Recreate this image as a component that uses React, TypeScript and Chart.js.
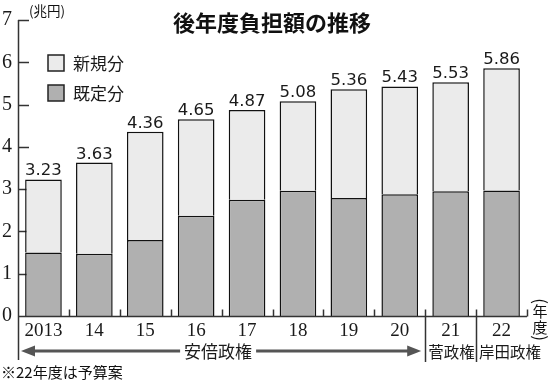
import React, { useEffect, useRef } from "react";
import { Chart, registerables } from "chart.js";

Chart.register(...registerables);

const categories = ["2013", "14", "15", "16", "17", "18", "19", "20", "21", "22"];
const totals = [3.23, 3.63, 4.36, 4.65, 4.87, 5.08, 5.36, 5.43, 5.53, 5.86];
const existingValues = [1.5, 1.47, 1.8, 2.37, 2.75, 2.96, 2.79, 2.88, 2.95, 2.97];
const newValues = [1.73, 2.16, 2.56, 2.28, 2.12, 2.12, 2.57, 2.55, 2.58, 2.89];
const seriesLabels = ["既定分", "新規分"];
const eras = [
  { label: "安倍政権", from: 0, to: 7 },
  { label: "菅政権", from: 8, to: 8 },
  { label: "岸田政権", from: 9, to: 9 },
];
const titleText = "後年度負担額の推移";
const unitText = "(兆円)";
const noteText = "※22年度は予算案";

const LIGHT = "#ebebeb";
const DARK = "#b0b0b0";
const INK = "#1a1a1a";
const SERIF = "'Liberation Serif', 'DejaVu Serif', serif";
const CJK = "'Noto Sans CJK JP', 'Noto Sans', sans-serif";

const decorPlugin = {
  id: "decor",
  beforeDatasetsDraw(chart: any) {
    const ctx = chart.ctx;
    const y = chart.scales.y;
    const area = chart.chartArea;
    ctx.save();
    ctx.strokeStyle = "#333";
    ctx.lineWidth = 1.5;
    for (let v = 1; v <= 7; v++) {
      const py = Math.round(y.getPixelForValue(v)) + 0.5;
      ctx.beginPath();
      ctx.moveTo(area.left, py);
      ctx.lineTo(area.left + 11, py);
      ctx.stroke();
    }
    ctx.restore();
  },
  afterDatasetsDraw(chart: any) {
    const ctx = chart.ctx;
    const x = chart.scales.x;
    const y = chart.scales.y;
    const area = chart.chartArea;
    const base = Math.round(y.getPixelForValue(0)) + 0.5;
    ctx.save();
    // axes
    ctx.strokeStyle = "#333";
    ctx.lineWidth = 1.5;
    ctx.beginPath();
    ctx.moveTo(area.left + 0.5, area.top);
    ctx.lineTo(area.left + 0.5, 360);
    ctx.moveTo(area.left, base);
    ctx.lineTo(area.right, base);
    ctx.stroke();

    const n = categories.length;
    const boundary = (i: number) => {
      if (i <= 0) return area.left;
      if (i >= n) return area.right;
      return (x.getPixelForValue(i - 1) + x.getPixelForValue(i)) / 2;
    };
    const eraBreaks = eras.slice(1).map((e) => e.from);
    for (let i = 1; i <= n; i++) {
      const bx = Math.round(boundary(i)) + 0.5;
      const isBreak = eraBreaks.includes(i);
      ctx.beginPath();
      ctx.moveTo(bx, base - 7);
      ctx.lineTo(bx, isBreak ? 362 : base);
      ctx.stroke();
    }

    // eras
    const ey = 351;
    eras.forEach((era, idx) => {
      if (idx === 0) {
        ctx.font = `17px ${CJK}`;
        const left = area.left + 3;
        const right = boundary(era.to + 1) - 4;
        const cx = (left + right) / 2 - 3;
        const tw = ctx.measureText(era.label).width;
        ctx.fillStyle = INK;
        ctx.textAlign = "center";
        ctx.textBaseline = "middle";
        ctx.fillText(era.label, cx, ey + 1);
        ctx.strokeStyle = "#555";
        ctx.fillStyle = "#555";
        ctx.lineWidth = 3;
        ctx.beginPath();
        ctx.moveTo(left + 10, ey);
        ctx.lineTo(cx - tw / 2 - 4, ey);
        ctx.moveTo(cx + tw / 2 + 4, ey);
        ctx.lineTo(right - 10, ey);
        ctx.stroke();
        ctx.beginPath();
        ctx.moveTo(left, ey);
        ctx.lineTo(left + 14, ey - 5.5);
        ctx.lineTo(left + 14, ey + 5.5);
        ctx.closePath();
        ctx.fill();
        ctx.beginPath();
        ctx.moveTo(right, ey);
        ctx.lineTo(right - 14, ey - 5.5);
        ctx.lineTo(right - 14, ey + 5.5);
        ctx.closePath();
        ctx.fill();
      } else {
        ctx.font = `15.5px ${CJK}`;
        ctx.fillStyle = INK;
        ctx.textAlign = "left";
        ctx.textBaseline = "middle";
        ctx.fillText(era.label, boundary(era.from) + 3, ey + 1);
      }
    });

    // value labels
    const meta = chart.getDatasetMeta(1);
    ctx.font = `16.5px 'DejaVu Sans', sans-serif`;
    ctx.fillStyle = INK;
    ctx.textAlign = "center";
    ctx.textBaseline = "alphabetic";
    totals.forEach((t, i) => {
      const el = meta.data[i];
      ctx.fillText(t.toFixed(2), el.x, y.getPixelForValue(t) - 4);
    });

    // legend
    const legendItems = [
      { label: chart.data.datasets[1].label, color: chart.data.datasets[1].backgroundColor, y: 55 },
      { label: chart.data.datasets[0].label, color: chart.data.datasets[0].backgroundColor, y: 85 },
    ];
    legendItems.forEach((it) => {
      ctx.fillStyle = it.color;
      ctx.fillRect(48, it.y, 16, 16);
      ctx.strokeStyle = "#222";
      ctx.lineWidth = 1.5;
      ctx.strokeRect(48, it.y, 16, 16);
      ctx.fillStyle = INK;
      ctx.font = `17px ${CJK}`;
      ctx.textAlign = "left";
      ctx.textBaseline = "middle";
      ctx.fillText(it.label, 73, it.y + 8.5);
    });

    // title
    ctx.font = `bold 22px ${CJK}`;
    ctx.fillStyle = "#111";
    ctx.textAlign = "center";
    ctx.textBaseline = "middle";
    ctx.fillText(titleText, 272, 23);

    // unit
    ctx.font = `13.5px ${CJK}`;
    ctx.textAlign = "left";
    ctx.fillText(unitText, 29, 11);

    // note
    ctx.font = `15px ${CJK}`;
    ctx.textAlign = "left";
    ctx.fillText(noteText, 1, 372);

    // vertical (年度)
    const vx = 540;
    ctx.textAlign = "center";
    ctx.textBaseline = "middle";
    ctx.font = `17px ${CJK}`;
    ctx.save();
    ctx.translate(vx, 301);
    ctx.rotate(Math.PI / 2);
    ctx.fillText("(", 0, 0);
    ctx.restore();
    ctx.font = `15px ${CJK}`;
    ctx.fillText("年", vx, 311);
    ctx.fillText("度", vx, 327);
    ctx.font = `17px ${CJK}`;
    ctx.save();
    ctx.translate(vx, 338);
    ctx.rotate(Math.PI / 2);
    ctx.fillText(")", 0, 0);
    ctx.restore();

    ctx.restore();
  },
};

export default function App() {
  const ref = useRef<HTMLCanvasElement>(null);
  useEffect(() => {
    document.body.style.margin = "0";
    const canvas = ref.current;
    if (!canvas) return;
    const chart = new Chart(canvas, {
      type: "bar",
      data: {
        labels: categories,
        datasets: [
          {
            label: seriesLabels[0],
            data: existingValues,
            backgroundColor: DARK,
            borderColor: "#111",
            borderWidth: 1.5,
            borderSkipped: "bottom",
          },
          {
            label: seriesLabels[1],
            data: newValues,
            backgroundColor: LIGHT,
            borderColor: "#111",
            borderWidth: 1.5,
            borderSkipped: "bottom",
          },
        ],
      },
      options: {
        responsive: false,
        animation: false,
        devicePixelRatio: 1,
        layout: { padding: { top: 20, right: 23, left: 0, bottom: 0 } },
        datasets: { bar: { categoryPercentage: 1, barPercentage: 0.72 } },
        plugins: { legend: { display: false }, tooltip: { enabled: false }, title: { display: false } },
        scales: {
          x: {
            stacked: true,
            grid: { display: false, drawTicks: false },
            border: { display: false },
            ticks: { font: { family: SERIF, size: 19 }, color: INK, padding: 4, maxRotation: 0, autoSkip: false },
            afterFit: (s: any) => {
              s.height = 66;
            },
          },
          y: {
            stacked: true,
            min: 0,
            max: 7,
            grid: { display: false, drawTicks: false },
            border: { display: false },
            ticks: { stepSize: 1, font: { family: SERIF, size: 20 }, color: INK, padding: 6 },
            afterFit: (s: any) => {
              s.width = 18;
            },
          },
        },
      },
      plugins: [decorPlugin],
    } as any);
    return () => chart.destroy();
  }, []);
  return (
    <div style={{ position: "absolute", left: 0, top: 0, width: 550, height: 382, background: "#fff" }}>
      <canvas ref={ref} width={550} height={382} />
    </div>
  );
}
